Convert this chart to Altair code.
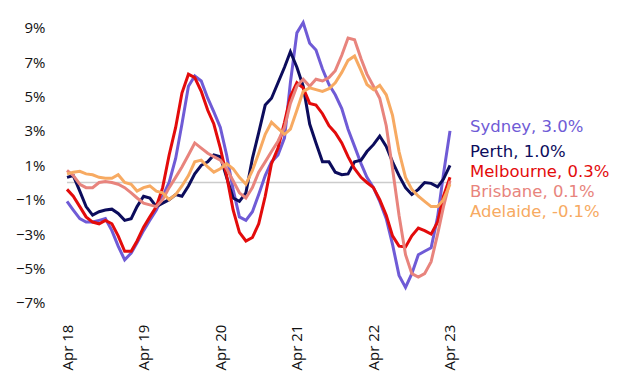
import altair as alt
import pandas as pd

months = pd.date_range("2018-04-01", "2023-04-01", freq="MS").strftime("%Y-%m-%d").tolist()

sydney = [-1.1, -1.6, -2.1, -2.3, -2.3, -2.2, -2.1, -2.8, -3.7, -4.5, -4.1, -3.5, -2.8, -2.2, -1.6, -0.8,
          0.0, 1.4, 3.4, 5.6, 6.2, 5.9, 4.9, 4.1, 3.2, 1.6, -0.4, -2.0, -2.2, -1.7, -0.7, 0.4, 1.2, 1.6,
          2.6, 5.8, 8.7, 9.3, 8.1, 7.7, 6.6, 5.7, 5.1, 4.3, 3.1, 2.1, 1.1, 0.3, -0.3, -1.1, -2.1, -3.6,
          -5.4, -6.1, -5.3, -4.2, -4.0, -3.8, -2.0, 0.5, 3.0]
perth = [0.3, 0.4, -0.5, -1.4, -1.9, -1.7, -1.6, -1.55, -1.8, -2.2, -2.1, -1.4, -0.8, -0.9, -1.4, -1.2,
         -1.0, -0.7, -0.8, -0.2, 0.5, 1.0, 1.2, 1.6, 1.5, 0.3, -0.9, -1.1, -0.6, 1.4, 2.9, 4.5, 4.9, 5.8,
         6.7, 7.6, 6.7, 5.6, 3.4, 2.3, 1.2, 1.2, 0.6, 0.45, 0.5, 1.2, 1.3, 1.8, 2.2, 2.7, 2.1, 1.2,
         0.4, -0.3, -0.7, -0.4, 0.0, -0.05, -0.25, 0.2, 1.0]
melbourne = [-0.4, -0.8, -1.4, -2.0, -2.3, -2.4, -2.2, -2.4, -3.1, -4.0, -4.0, -3.4, -2.6, -2.0, -1.4, -0.3,
             1.6, 3.2, 5.2, 6.3, 6.1, 5.3, 4.2, 3.4, 2.0, 0.4, -1.6, -2.9, -3.4, -3.2, -2.4, -0.8, 1.1, 2.0,
             3.5, 5.0, 5.8, 5.5, 4.6, 4.5, 4.0, 3.3, 2.9, 2.3, 1.5, 0.8, 0.3, 0.0, -0.3, -1.0, -1.9, -3.1,
             -3.7, -3.75, -3.1, -2.65, -2.8, -3.0, -2.3, -0.8, 0.3]
brisbane = [0.7, 0.4, -0.1, -0.3, -0.3, 0.0, 0.05, 0.0, -0.1, -0.3, -0.6, -0.9, -1.2, -1.3, -1.4, -1.0,
            -0.3, 0.3, 0.9, 1.6, 2.3, 2.0, 1.7, 1.5, 1.3, 0.8, 0.1, -0.6, -0.9, -0.3, 0.6, 1.2, 1.8, 2.4,
            3.2, 4.6, 5.6, 6.0, 5.6, 6.0, 5.9, 6.1, 6.5, 7.4, 8.4, 8.3, 7.2, 6.3, 5.6, 4.9, 3.3, 0.8,
            -1.9, -4.2, -5.3, -5.5, -5.3, -4.6, -3.0, -1.4, 0.1]
adelaide = [0.5, 0.6, 0.65, 0.5, 0.45, 0.3, 0.25, 0.25, 0.45, 0.0, -0.1, -0.5, -0.3, -0.2, -0.5, -0.6,
            -1.0, -0.7, -0.2, 0.4, 1.2, 1.3, 0.9, 0.6, 0.8, 1.1, 0.8, 0.3, -0.1, 0.7, 1.7, 2.8, 3.5, 3.15,
            2.8, 3.1, 4.2, 5.3, 5.5, 5.4, 5.3, 5.45, 5.8, 6.4, 7.1, 7.35, 6.5, 5.7, 5.4, 5.65, 5.1, 3.9,
            1.8, 0.3, -0.4, -0.8, -1.1, -1.4, -1.4, -1.0, -0.1]

cities = ["Sydney", "Perth", "Melbourne", "Brisbane", "Adelaide"]
colors = ["#6f5bd6", "#0c0c5c", "#e30b0b", "#e8847d", "#f7aa62"]
label_texts = ["Sydney, 3.0%", "Perth, 1.0%", "Melbourne, 0.3%", "Brisbane, 0.1%", "Adelaide, -0.1%"]
label_levels = [3.25, 1.75, 0.6, -0.55, -1.72]
y_ticks = [-7, -5, -3, -1, 1, 3, 5, 7, 9]
x_ticks = ["2018-04-01", "2019-04-01", "2020-04-01", "2021-04-01", "2022-04-01", "2023-04-01"]

series = [sydney, perth, melbourne, brisbane, adelaide]
rows = []
for city, vals in zip(cities, series):
    for m, v in zip(months, vals):
        rows.append({"date": m, "value": v, "city": city})
df = pd.DataFrame(rows)
order = {"Adelaide": 0, "Brisbane": 1, "Sydney": 2, "Melbourne": 3, "Perth": 4}
df["ord"] = df["city"].map(order)

labels = pd.DataFrame({"date": [months[-1]] * 5, "value": label_levels,
                       "city": cities, "text": label_texts})

FONT = "Open Sans"
LABEL_FONT = "DejaVu Sans"
color_scale = alt.Scale(domain=cities, range=colors)
x_scale = alt.Scale(domain=[months[0], months[-1]])
y_scale = alt.Scale(domain=[-8, 10], nice=False)

x_axis = alt.Axis(values=x_ticks, format="Apr %y", labelAngle=-90, title=None,
                  grid=False, domain=False, ticks=False, labelPadding=4, labelOverlap=False,
                  labelFont=FONT, labelFontSize=15, labelColor="#111111")
y_axis = alt.Axis(values=y_ticks, format=".0f",
                  labelExpr="replace(datum.label, '-', '\u2212') + '%'",
                  title=None, grid=False, domain=False, ticks=False, labelPadding=22,
                  labelOverlap=False, labelBound=False, labelFlush=False,
                  labelFont=FONT, labelFontSize=15, labelColor="#111111")

zero = alt.Chart(pd.DataFrame({"v": [0]})).mark_rule(color="#cccccc", strokeWidth=1.5).encode(
    y=alt.Y("v:Q", scale=y_scale, axis=y_axis))

lines = alt.Chart(df).mark_line(strokeWidth=3).encode(
    x=alt.X("date:T", scale=x_scale, axis=x_axis),
    y=alt.Y("value:Q", scale=y_scale, axis=y_axis),
    color=alt.Color("city:N", scale=color_scale, legend=None),
    detail="city:N",
    order=alt.Order("ord:Q"),
)

text = alt.Chart(labels).mark_text(align="left", baseline="middle", dx=20, font=LABEL_FONT,
                                   fontSize=16.5).encode(
    x=alt.X("date:T", scale=x_scale, axis=x_axis),
    y=alt.Y("value:Q", scale=y_scale, axis=y_axis),
    text="text:N",
    color=alt.Color("city:N", scale=color_scale, legend=None),
)

chart = alt.layer(zero, lines, text).properties(
    width=383, height=309.6,
    autosize=alt.AutoSizeParams(type="none"),
    padding={"left": 59, "top": 2.5, "right": 170, "bottom": 54},
).configure_view(stroke=None)

chart.save("out.html", embed_options={"renderer": "svg", "actions": False})
